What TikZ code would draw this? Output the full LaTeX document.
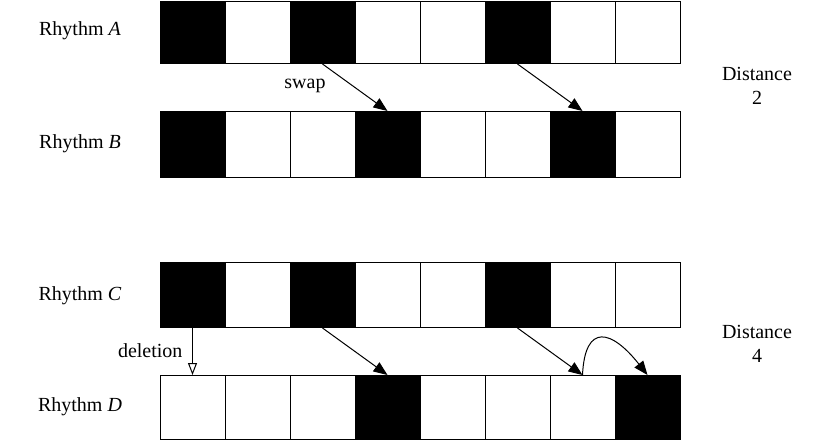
\documentclass[tikz,border=0pt]{standalone}
\usepackage{fontspec}
\setmainfont{Liberation Serif}
\usetikzlibrary{arrows.meta}
\begin{document}
\begin{tikzpicture}[x=1pt,y=-1pt,
  cellw/.style={draw,line width=1pt,fill=white,minimum width=65pt,minimum height=65pt,inner sep=0pt,anchor=north west},
  cellb/.style={cellw,fill=black},
  lbl/.style={font=\fontsize{20}{24}\selectfont},
  arr/.style={-{Triangle[length=14pt,width=11pt]},line width=1pt},
  harr/.style={-{Triangle[open,length=12pt,width=9pt]},line width=1pt}]
\useasboundingbox (0,0) rectangle (830,440);
\def\row#1#2#3{%
  \foreach \v [count=\i from 0] in {#3} {
    \ifnum\v=1 \node[cellb,minimum height=#2] (#1\i) at ({159.5+65*\i},0) {};
    \else \node[cellw,minimum height=#2] (#1\i) at ({159.5+65*\i},0) {};\fi }}
\begin{scope}[yshift=-0.5pt]
\foreach \v [count=\i from 0] in {1,0,1,0,0,1,0,0} {\ifnum\v=1 \node[cellb,minimum height=62pt] (a\i) at ({159.5+65*\i},0.5) {}; \else \node[cellw,minimum height=62pt] (a\i) at ({159.5+65*\i},0.5) {};\fi}
\end{scope}
\foreach \v [count=\i from 0] in {1,0,0,1,0,0,1,0} {\ifnum\v=1 \node[cellb,minimum height=66pt] (b\i) at ({159.5+65*\i},111) {}; \else \node[cellw,minimum height=66pt] (b\i) at ({159.5+65*\i},111) {};\fi}
\foreach \v [count=\i from 0] in {1,0,1,0,0,1,0,0} {\ifnum\v=1 \node[cellb,minimum height=65pt] (c\i) at ({159.5+65*\i},262) {}; \else \node[cellw,minimum height=65pt] (c\i) at ({159.5+65*\i},262) {};\fi}
\foreach \v [count=\i from 0] in {0,0,0,1,0,0,0,1} {\ifnum\v=1 \node[cellb,minimum height=64pt] (d\i) at ({159.5+65*\i},375) {}; \else \node[cellw,minimum height=64pt] (d\i) at ({159.5+65*\i},375) {};\fi}
\node[lbl] (la) at (80,31) {Rhythm \textit{A}};
\node[lbl] (lb) at (80,144) {Rhythm \textit{B}};
\node[lbl] (lc) at (80,296) {Rhythm \textit{C}};
\node[lbl] (ld) at (80,407) {Rhythm \textit{D}};
\node[lbl,align=center] (d2) at (757,86) {Distance\\2};
\node[lbl,align=center] (d4) at (757,344) {Distance\\4};
\draw[arr] (a2.south) -- (b3.north);
\draw[arr] (a5.south) -- (b6.north);
\node[lbl] (sw) at (305,86) {swap};
\draw[arr] (c2.south) -- (d3.north);
\draw[arr] (c5.south) -- (d6.north);
\draw[arr] (d6.north) .. controls (585,322) and (612,330) .. (d7.north);
\draw[harr] (c0.south) -- (d0.north);
\node[lbl,anchor=east] (del) at (186,351) {deletion};
\end{tikzpicture}
\end{document}
